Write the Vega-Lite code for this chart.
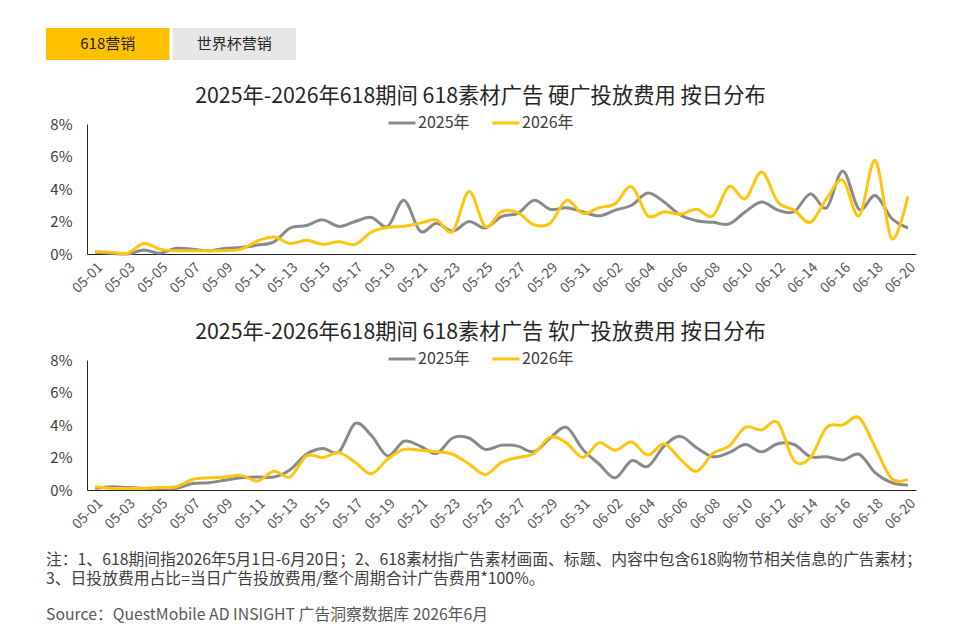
{
  "$schema": "https://vega.github.io/schema/vega-lite/v6.json",
  "background": "white",
  "padding": {"left": 46, "top": 28, "right": 10, "bottom": 8},
  "config": {
    "font": "Noto Sans CJK SC",
    "view": {"stroke": null},
    "axis": {"grid": false, "ticks": false, "domainColor": "#262626", "domainWidth": 1},
    "title": {"font": "Noto Sans CJK SC"}
  },
  "datasets": {
    "tabs": [
      {"tab": "618营销"},
      {"tab": "世界杯营销"}
    ],
    "hard": [
      {"date": "05-01", "v2025": 0.1, "v2026": 0.15},
      {"date": "05-02", "v2025": 0.05, "v2026": 0.1},
      {"date": "05-03", "v2025": 0, "v2026": 0.05},
      {"date": "05-04", "v2025": 0.25, "v2026": 0.65},
      {"date": "05-05", "v2025": 0.05, "v2026": 0.3},
      {"date": "05-06", "v2025": 0.35, "v2026": 0.2},
      {"date": "05-07", "v2025": 0.3, "v2026": 0.2},
      {"date": "05-08", "v2025": 0.2, "v2026": 0.2},
      {"date": "05-09", "v2025": 0.35, "v2026": 0.2},
      {"date": "05-10", "v2025": 0.4, "v2026": 0.3},
      {"date": "05-11", "v2025": 0.55, "v2026": 0.8},
      {"date": "05-12", "v2025": 0.75, "v2026": 1.05},
      {"date": "05-13", "v2025": 1.6, "v2026": 0.65},
      {"date": "05-14", "v2025": 1.75, "v2026": 0.85},
      {"date": "05-15", "v2025": 2.1, "v2026": 0.6},
      {"date": "05-16", "v2025": 1.7, "v2026": 0.75},
      {"date": "05-17", "v2025": 2.0, "v2026": 0.6},
      {"date": "05-18", "v2025": 2.25, "v2026": 1.35},
      {"date": "05-19", "v2025": 1.7, "v2026": 1.65},
      {"date": "05-20", "v2025": 3.3, "v2026": 1.7},
      {"date": "05-21", "v2025": 1.4, "v2026": 1.9},
      {"date": "05-22", "v2025": 1.9, "v2026": 2.1},
      {"date": "05-23", "v2025": 1.4, "v2026": 1.4},
      {"date": "05-24", "v2025": 2.0, "v2026": 3.85},
      {"date": "05-25", "v2025": 1.6, "v2026": 1.7},
      {"date": "05-26", "v2025": 2.3, "v2026": 2.6},
      {"date": "05-27", "v2025": 2.5, "v2026": 2.55},
      {"date": "05-28", "v2025": 3.3, "v2026": 1.8},
      {"date": "05-29", "v2025": 2.75, "v2026": 1.9},
      {"date": "05-30", "v2025": 2.85, "v2026": 3.3},
      {"date": "05-31", "v2025": 2.6, "v2026": 2.5},
      {"date": "06-01", "v2025": 2.35, "v2026": 2.85},
      {"date": "06-02", "v2025": 2.7, "v2026": 3.1},
      {"date": "06-03", "v2025": 3.0, "v2026": 4.15},
      {"date": "06-04", "v2025": 3.75, "v2026": 2.35},
      {"date": "06-05", "v2025": 3.2, "v2026": 2.6},
      {"date": "06-06", "v2025": 2.4, "v2026": 2.45},
      {"date": "06-07", "v2025": 2.05, "v2026": 2.75},
      {"date": "06-08", "v2025": 1.95, "v2026": 2.35},
      {"date": "06-09", "v2025": 1.85, "v2026": 4.15},
      {"date": "06-10", "v2025": 2.6, "v2026": 3.4},
      {"date": "06-11", "v2025": 3.2, "v2026": 5.05},
      {"date": "06-12", "v2025": 2.7, "v2026": 3.2},
      {"date": "06-13", "v2025": 2.6, "v2026": 2.7},
      {"date": "06-14", "v2025": 3.7, "v2026": 1.95},
      {"date": "06-15", "v2025": 2.85, "v2026": 3.4},
      {"date": "06-16", "v2025": 5.1, "v2026": 4.55},
      {"date": "06-17", "v2025": 2.75, "v2026": 2.35},
      {"date": "06-18", "v2025": 3.6, "v2026": 5.75},
      {"date": "06-19", "v2025": 2.2, "v2026": 0.95},
      {"date": "06-20", "v2025": 1.6, "v2026": 3.55}
    ],
    "soft": [
      {"date": "05-01", "v2025": 0.1, "v2026": 0.2},
      {"date": "05-02", "v2025": 0.2, "v2026": 0.1},
      {"date": "05-03", "v2025": 0.15, "v2026": 0.1},
      {"date": "05-04", "v2025": 0.1, "v2026": 0.1},
      {"date": "05-05", "v2025": 0.1, "v2026": 0.15},
      {"date": "05-06", "v2025": 0.1, "v2026": 0.2},
      {"date": "05-07", "v2025": 0.4, "v2026": 0.65},
      {"date": "05-08", "v2025": 0.45, "v2026": 0.75},
      {"date": "05-09", "v2025": 0.6, "v2026": 0.8},
      {"date": "05-10", "v2025": 0.75, "v2026": 0.9},
      {"date": "05-11", "v2025": 0.8, "v2026": 0.55},
      {"date": "05-12", "v2025": 0.8, "v2026": 1.15},
      {"date": "05-13", "v2025": 1.25, "v2026": 0.8},
      {"date": "05-14", "v2025": 2.2, "v2026": 2.1},
      {"date": "05-15", "v2025": 2.55, "v2026": 2.0},
      {"date": "05-16", "v2025": 2.35, "v2026": 2.3},
      {"date": "05-17", "v2025": 4.1, "v2026": 1.7},
      {"date": "05-18", "v2025": 3.35, "v2026": 1.0},
      {"date": "05-19", "v2025": 2.1, "v2026": 1.9},
      {"date": "05-20", "v2025": 3.0, "v2026": 2.5},
      {"date": "05-21", "v2025": 2.7, "v2026": 2.45},
      {"date": "05-22", "v2025": 2.25, "v2026": 2.35},
      {"date": "05-23", "v2025": 3.2, "v2026": 2.2},
      {"date": "05-24", "v2025": 3.2, "v2026": 1.6},
      {"date": "05-25", "v2025": 2.5, "v2026": 0.95},
      {"date": "05-26", "v2025": 2.75, "v2026": 1.7},
      {"date": "05-27", "v2025": 2.7, "v2026": 2.0},
      {"date": "05-28", "v2025": 2.35, "v2026": 2.25},
      {"date": "05-29", "v2025": 3.2, "v2026": 3.25},
      {"date": "05-30", "v2025": 3.85, "v2026": 2.9},
      {"date": "05-31", "v2025": 2.5, "v2026": 2.0},
      {"date": "06-01", "v2025": 1.6, "v2026": 2.9},
      {"date": "06-02", "v2025": 0.75, "v2026": 2.45},
      {"date": "06-03", "v2025": 1.8, "v2026": 2.95},
      {"date": "06-04", "v2025": 1.45, "v2026": 2.15},
      {"date": "06-05", "v2025": 2.7, "v2026": 2.85},
      {"date": "06-06", "v2025": 3.3, "v2026": 1.9},
      {"date": "06-07", "v2025": 2.6, "v2026": 1.15},
      {"date": "06-08", "v2025": 2.05, "v2026": 2.25},
      {"date": "06-09", "v2025": 2.3, "v2026": 2.7},
      {"date": "06-10", "v2025": 2.8, "v2026": 3.85},
      {"date": "06-11", "v2025": 2.35, "v2026": 3.7},
      {"date": "06-12", "v2025": 2.85, "v2026": 4.15},
      {"date": "06-13", "v2025": 2.8, "v2026": 1.8},
      {"date": "06-14", "v2025": 2.05, "v2026": 2.0},
      {"date": "06-15", "v2025": 2.05, "v2026": 3.85},
      {"date": "06-16", "v2025": 1.85, "v2026": 4.0},
      {"date": "06-17", "v2025": 2.2, "v2026": 4.45},
      {"date": "06-18", "v2025": 1.05, "v2026": 2.6},
      {"date": "06-19", "v2025": 0.45, "v2026": 0.7},
      {"date": "06-20", "v2025": 0.3, "v2026": 0.65}
    ]
  },
  "title": {
    "text": [
      "注：1、618期间指2026年5月1日-6月20日；2、618素材指广告素材画面、标题、内容中包含618购物节相关信息的广告素材；",
      "3、日投放费用占比=当日广告投放费用/整个周期合计广告费用*100%。"
    ],
    "subtitle": "Source：QuestMobile AD INSIGHT 广告洞察数据库 2026年6月",
    "orient": "bottom",
    "anchor": "start",
    "frame": "bounds",
    "offset": 22,
    "fontSize": 15.8,
    "fontWeight": "normal",
    "lineHeight": 19,
    "color": "#404040",
    "subtitleFontSize": 15.8,
    "subtitleColor": "#595959",
    "subtitlePadding": 20
  },
  "concat": [
    {
      "data": {"name": "tabs"},
      "width": 250,
      "height": 32,
      "layer": [
        {
          "mark": {"type": "rect"},
          "encoding": {
            "x": {"field": "tab", "type": "nominal", "sort": null, "axis": null, "scale": {"range": [-41, 209], "paddingInner": 0.024, "paddingOuter": 0}},
            "color": {"field": "tab", "type": "nominal", "legend": null, "scale": {"domain": ["618营销", "世界杯营销"], "range": ["#FFC000", "#E7E7E7"]}}
          }
        },
        {
          "mark": {"type": "text", "fontSize": 15, "color": "#262626", "baseline": "middle"},
          "encoding": {
            "x": {"field": "tab", "type": "nominal", "sort": null, "axis": null},
            "text": {"field": "tab"}
          }
        }
      ]
    },
    {
      "vconcat": [
        {
          "data": {"name": "hard"},
          "width": 829,
          "height": 130,
          "title": {"text": "2025年-2026年618期间 618素材广告 硬广投放费用 按日分布", "fontSize": 21.3, "fontWeight": "normal", "color": "#262626", "baseline": "alphabetic", "offset": -16, "dx": -21},
          "transform": [{"fold": ["v2025", "v2026"], "as": ["series", "pct"]}],
          "mark": {"type": "line", "interpolate": "cardinal", "tension": 0, "strokeWidth": 3},
          "encoding": {
            "x": {"field": "date", "type": "ordinal", "sort": null, "title": null,
              "axis": {"labelAngle": -45, "labelFontSize": 14, "labelColor": "#595959", "labelPadding": 6,
                "values": ["05-01","05-03","05-05","05-07","05-09","05-11","05-13","05-15","05-17","05-19","05-21","05-23","05-25","05-27","05-29","05-31","06-02","06-04","06-06","06-08","06-10","06-12","06-14","06-16","06-18","06-20"]}},
            "y": {"field": "pct", "type": "quantitative", "title": null, "scale": {"domain": [0, 8]},
              "axis": {"values": [0, 2, 4, 6, 8], "labelExpr": "datum.value + '%'", "labelFontSize": 15, "labelColor": "#404040", "labelPadding": 15}},
            "color": {"field": "series", "type": "nominal",
              "scale": {"domain": ["v2025", "v2026"], "range": ["#8A8A8A", "#FFC50F"]},
              "legend": {"orient": "none", "legendX": 300, "legendY": -16, "direction": "horizontal", "title": null,
                "labelExpr": "datum.label == 'v2025' ? '2025年' : '2026年'", "labelFontSize": 16, "labelColor": "#404040",
                "symbolType": "stroke", "symbolSize": 729, "symbolStrokeWidth": 3, "columnPadding": 16, "labelOffset": 1}}
          }
        },
        {
          "data": {"name": "soft"},
          "width": 829,
          "height": 130,
          "title": {"text": "2025年-2026年618期间 618素材广告 软广投放费用 按日分布", "fontSize": 21.3, "fontWeight": "normal", "color": "#262626", "baseline": "alphabetic", "offset": -16, "dx": -21},
          "transform": [{"fold": ["v2025", "v2026"], "as": ["series", "pct"]}],
          "mark": {"type": "line", "interpolate": "cardinal", "tension": 0, "strokeWidth": 3},
          "encoding": {
            "x": {"field": "date", "type": "ordinal", "sort": null, "title": null,
              "axis": {"labelAngle": -45, "labelFontSize": 14, "labelColor": "#595959", "labelPadding": 6,
                "values": ["05-01","05-03","05-05","05-07","05-09","05-11","05-13","05-15","05-17","05-19","05-21","05-23","05-25","05-27","05-29","05-31","06-02","06-04","06-06","06-08","06-10","06-12","06-14","06-16","06-18","06-20"]}},
            "y": {"field": "pct", "type": "quantitative", "title": null, "scale": {"domain": [0, 8]},
              "axis": {"values": [0, 2, 4, 6, 8], "labelExpr": "datum.value + '%'", "labelFontSize": 15, "labelColor": "#404040", "labelPadding": 15}},
            "color": {"field": "series", "type": "nominal",
              "scale": {"domain": ["v2025", "v2026"], "range": ["#8A8A8A", "#FFC50F"]},
              "legend": {"orient": "none", "legendX": 300, "legendY": -16, "direction": "horizontal", "title": null,
                "labelExpr": "datum.label == 'v2025' ? '2025年' : '2026年'", "labelFontSize": 16, "labelColor": "#404040",
                "symbolType": "stroke", "symbolSize": 729, "symbolStrokeWidth": 3, "columnPadding": 16, "labelOffset": 1}}
          }
        }
      ],
      "spacing": 25,
      "resolve": {"legend": {"color": "independent"}}
    }
  ],
  "columns": 1,
  "align": "none",
  "spacing": 25,
  "resolve": {"scale": {"color": "independent"}}
}
